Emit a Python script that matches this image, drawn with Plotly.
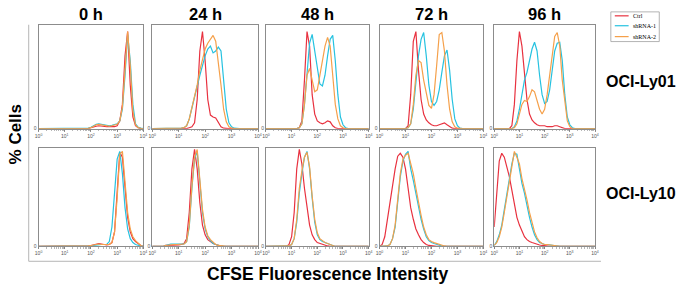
import plotly.graph_objects as go

# ---------------- data ----------------
# CFSE intensity grid expressed in decades (log10 of intensity)
log_decades = [0.0, 0.1, 0.2, 0.3, 0.4, 0.5, 0.6, 0.7, 0.8, 0.9,
               1.0, 1.1, 1.2, 1.3, 1.4, 1.5, 1.6, 1.7, 1.8, 1.9,
               2.0, 2.1, 2.2, 2.3, 2.4, 2.5, 2.6, 2.7, 2.8, 2.9,
               3.0, 3.1, 3.2, 3.3, 3.4, 3.5, 3.6, 3.7, 3.8, 3.9,
               4.0]

time_points = ["0 h", "24 h", "48 h", "72 h", "96 h"]
cell_lines = ["OCI-Ly01", "OCI-Ly10"]
series_names = ["Ctrl", "shRNA-1", "shRNA-2"]
tick_labels = ["10<sup>0</sup>", "10<sup>1</sup>", "10<sup>2</sup>", "10<sup>3</sup>", "10<sup>4</sup>"]
tick_intensities = [1, 10, 100, 1000, 10000]

# OCI-Ly01 (% of max cells)
ly01_0h_ctrl = [0, 0, 0, 0, 0, 0, 0, 0, 0, 0,
                0, 0, 0, 0, 0, 0, 0, 0, 0, 0,
                1, 2, 2.5, 3, 2.5, 2, 2, 2, 2, 2,
                3, 8, 25, 75, 100, 45, 12, 3, 1, 0,
                0]
ly01_0h_sh1 = [0, 0, 0, 0, 0, 0, 0, 0, 0, 0,
               0, 0, 0, 0, 0, 0, 0, 0, 0, 0.5,
               1.5, 3, 4.5, 5, 4.5, 3.5, 3, 3, 3.5, 4,
               5, 8, 20, 55, 97, 70, 25, 5, 1.5, 0.5,
               0]
ly01_0h_sh2 = [0, 0, 0, 0, 0, 0, 0, 0, 0, 0,
               0, 0, 0, 0, 0, 0, 0, 0, 0, 0.3,
               1, 2.5, 4, 4.5, 4, 3, 2.5, 2.5, 3, 3.5,
               4.5, 8, 22, 60, 100, 65, 18, 4, 1, 0.3,
               0]
ly01_24h_ctrl = [0, 0, 0, 0, 0, 0, 0, 0, 0, 0,
                 0, 0, 0, 0, 1, 2, 6, 30, 80, 100,
                 70, 30, 14, 12, 11, 6, 2, 0.5, 0, 0,
                 0, 0, 0, 0, 0, 0, 0, 0, 0, 0,
                 0]
ly01_24h_sh1 = [0, 0, 0, 0, 0, 0, 0, 0, 0, 0,
                0, 0.5, 1, 3, 10, 22, 32, 45, 55, 65,
                75, 82, 85, 78, 80, 84, 80, 50, 20, 6,
                2, 0.5, 0, 0, 0, 0, 0, 0, 0, 0,
                0]
ly01_24h_sh2 = [0, 0, 0, 0, 0, 0, 0, 0, 0, 0,
                0, 0.5, 1, 3, 10, 22, 32, 45, 60, 72,
                82, 88, 92, 96, 90, 70, 45, 20, 7, 2,
                0.5, 0, 0, 0, 0, 0, 0, 0, 0, 0,
                0]
ly01_48h_ctrl = [0, 0, 0, 0, 0, 0, 0, 0, 0, 0,
                 0, 0, 0, 1, 8, 50, 100, 85, 35, 15,
                 8, 6, 5, 6, 8, 7, 3, 1, 0, 0,
                 0, 0, 0, 0, 0, 0, 0, 0, 0, 0,
                 0]
ly01_48h_sh1 = [0, 0, 0, 0, 0, 0, 0, 0, 0, 0,
                0, 0, 0, 1, 5, 25, 60, 88, 97, 80,
                58, 46, 44, 55, 75, 92, 96, 70, 35, 12,
                4, 1, 0, 0, 0, 0, 0, 0, 0, 0,
                0]
ly01_48h_sh2 = [0, 0, 0, 0, 0, 0, 0, 0, 0, 0,
                0, 0, 0, 1, 5, 25, 55, 62, 50, 38,
                40, 55, 70, 85, 94, 85, 55, 25, 10, 3,
                1, 0, 0, 0, 0, 0, 0, 0, 0, 0,
                0]
ly01_72h_ctrl = [0, 0, 0, 0, 0, 0, 0, 0, 0, 0,
                 0, 3, 35, 90, 100, 60, 30, 15, 9, 6,
                 4, 3, 3, 4, 5, 6, 4, 2, 0.5, 0,
                 0, 0, 0, 0, 0, 0, 0, 0, 0, 0,
                 0]
ly01_72h_sh1 = [0, 0, 0, 0, 0, 0, 0, 0, 0, 0,
                0, 1, 5, 20, 50, 75, 92, 99, 75, 45,
                28, 24, 28, 40, 58, 75, 81, 60, 30, 10,
                3, 0.5, 0, 0, 0, 0, 0, 0, 0, 0,
                0]
ly01_72h_sh2 = [0, 0, 0, 0, 0, 0, 0, 0, 0, 0,
                0, 1, 5, 25, 55, 70, 68, 50, 35, 24,
                21, 35, 65, 97, 99, 80, 45, 20, 7, 2,
                0.5, 0, 0, 0, 0, 0, 0, 0, 0, 0,
                0]
ly01_96h_ctrl = [0, 0, 0, 0, 0, 0, 0, 3, 25, 70,
                 100, 85, 55, 30, 15, 9, 6, 4, 3, 3,
                 3, 2, 2, 2, 3, 3, 2, 1, 0, 0,
                 0, 0, 0, 0, 0, 0, 0, 0, 0, 0,
                 0]
ly01_96h_sh1 = [0, 0, 0, 0, 0, 0, 0, 0, 2, 8,
                20, 35, 50, 58, 70, 82, 89, 80, 55, 35,
                26, 28, 40, 60, 80, 88, 89, 70, 35, 12,
                4, 1, 0, 0, 0, 0, 0, 0, 0, 0,
                0]
ly01_96h_sh2 = [0, 0, 0, 0, 0, 0, 0, 0, 1, 5,
                15, 25, 29, 28, 33, 40, 38, 28, 20, 15,
                20, 35, 55, 80, 95, 99, 85, 50, 30, 8,
                2, 0, 0, 0, 0, 0, 0, 0, 0, 0,
                0]

# OCI-Ly10 (% of max cells)
ly10_0h_ctrl = [0, 0, 0, 0, 0, 0, 0, 0, 0, 0,
                0, 0, 0, 0, 0, 0, 0, 0, 0, 0.5,
                1, 1.5, 2, 3, 2.5, 2, 1.5, 2, 4, 15,
                55, 97, 92, 60, 30, 15, 8, 5, 3, 1,
                0]
ly10_0h_sh1 = [0, 0, 0, 0, 0, 0, 0, 0, 0, 0,
               0, 0, 0, 0, 0, 0, 0, 0, 0, 0,
               0.5, 1, 1.5, 2, 2, 2, 2, 5, 20, 55,
               90, 98, 75, 40, 18, 8, 4, 2, 1, 0.5,
               0]
ly10_0h_sh2 = [0, 0, 0, 0, 0, 0, 0, 0, 0, 0,
               0, 0, 0, 0, 0, 0, 0, 0, 0, 0.5,
               1, 1.5, 2, 2.5, 2, 2, 1.5, 2, 4, 15,
               50, 95, 98, 65, 35, 18, 10, 6, 3, 1,
               0]
ly10_24h_ctrl = [0, 0, 0, 0, 0, 1, 1, 1.5, 1.5, 1.5,
                 1.5, 2, 3, 8, 35, 80, 100, 80, 45, 22,
                 12, 7, 5, 3, 2, 1, 0.5, 0, 0, 0,
                 0, 0, 0, 0, 0, 0, 0, 0, 0, 0,
                 0]
ly10_24h_sh1 = [0, 0, 0, 0, 0, 1, 2, 2.5, 2.5, 2.5,
                2, 2, 2.5, 5, 20, 60, 90, 98, 70, 35,
                18, 10, 6, 3, 2, 1, 0.5, 0, 0, 0,
                0, 0, 0, 0, 0, 0, 0, 0, 0, 0,
                0]
ly10_24h_sh2 = [0, 0, 0, 0, 0, 1, 1.5, 2, 2, 2,
                2, 2, 2.5, 5, 22, 62, 92, 100, 72, 38,
                20, 11, 7, 4, 2, 1, 0.5, 0, 0, 0,
                0, 0, 0, 0, 0, 0, 0, 0, 0, 0,
                0]
ly10_48h_ctrl = [0, 0, 0, 0, 0, 0, 0, 0, 0, 2,
                 10, 35, 80, 100, 85, 60, 38, 22, 12, 7,
                 4, 3, 2, 1, 0.5, 0, 0, 0, 0, 0,
                 0, 0, 0, 0, 0, 0, 0, 0, 0, 0,
                 0]
ly10_48h_sh1 = [0, 0, 0, 0, 0, 0, 0, 0, 0, 0.5,
                2, 8, 25, 55, 75, 92, 98, 80, 50, 25,
                12, 7, 5, 4, 3, 2, 1, 0, 0, 0,
                0, 0, 0, 0, 0, 0, 0, 0, 0, 0,
                0]
ly10_48h_sh2 = [0, 0, 0, 0, 0, 0, 0, 0, 0, 0.5,
                2, 8, 28, 60, 78, 92, 97, 82, 52, 28,
                14, 8, 6, 4, 3, 2, 1, 0, 0, 0,
                0, 0, 0, 0, 0, 0, 0, 0, 0, 0,
                0]
ly10_72h_ctrl = [0, 2, 10, 28, 45, 62, 80, 93, 96, 92,
                 80, 60, 40, 28, 18, 12, 7, 4, 2, 1,
                 0.5, 0, 0, 0, 0, 0, 0, 0, 0, 0,
                 0, 0, 0, 0, 0, 0, 0, 0, 0, 0,
                 0]
ly10_72h_sh1 = [0, 0, 0, 0.5, 2, 8, 20, 45, 72, 88,
                95, 98, 80, 68, 55, 40, 28, 18, 10, 6,
                4, 3, 2, 1, 0.5, 0, 0, 0, 0, 0,
                0, 0, 0, 0, 0, 0, 0, 0, 0, 0,
                0]
ly10_72h_sh2 = [0, 0, 0, 0.5, 2, 8, 22, 48, 75, 90,
                94, 96, 85, 75, 60, 45, 32, 20, 12, 7,
                5, 4, 3, 2, 1, 0.5, 0, 0, 0, 0,
                0, 0, 0, 0, 0, 0, 0, 0, 0, 0,
                0]
ly10_96h_ctrl = [20, 55, 88, 96, 92, 82, 72, 58, 42, 30,
                 22, 15, 10, 7, 5, 4, 3, 2, 1.5, 1,
                 0.5, 0, 0, 0, 0, 0, 0, 0, 0, 0,
                 0, 0, 0, 0, 0, 0, 0, 0, 0, 0,
                 0]
ly10_96h_sh1 = [1, 5, 12, 22, 38, 55, 70, 85, 96, 95,
                80, 65, 55, 42, 30, 20, 12, 7, 4, 3,
                2, 2, 1.5, 1, 0.5, 0, 0, 0, 0, 0,
                0, 0, 0, 0, 0, 0, 0, 0, 0, 0,
                0]
ly10_96h_sh2 = [1, 4, 10, 20, 35, 52, 68, 85, 98, 92,
                85, 70, 60, 48, 35, 24, 15, 9, 5, 3,
                2, 2, 1.5, 1, 0.5, 0, 0, 0, 0, 0,
                0, 0, 0, 0, 0, 0, 0, 0, 0, 0,
                0]

panels = [
    [(ly01_0h_ctrl, ly01_0h_sh1, ly01_0h_sh2),
     (ly01_24h_ctrl, ly01_24h_sh1, ly01_24h_sh2),
     (ly01_48h_ctrl, ly01_48h_sh1, ly01_48h_sh2),
     (ly01_72h_ctrl, ly01_72h_sh1, ly01_72h_sh2),
     (ly01_96h_ctrl, ly01_96h_sh1, ly01_96h_sh2)],
    [(ly10_0h_ctrl, ly10_0h_sh1, ly10_0h_sh2),
     (ly10_24h_ctrl, ly10_24h_sh1, ly10_24h_sh2),
     (ly10_48h_ctrl, ly10_48h_sh1, ly10_48h_sh2),
     (ly10_72h_ctrl, ly10_72h_sh1, ly10_72h_sh2),
     (ly10_96h_ctrl, ly10_96h_sh1, ly10_96h_sh2)],
]

# ---------------- styling / layout ----------------
W, H = 686, 292
colors = ["#e8313f", "#26c2e0", "#f5a04a"]
frame_color = "#8c8c8c"
panel_x = [(35, 141), (150, 257), (265, 369), (380, 485), (496, 598)]
panel_y = [(25, 130), (150, 249)]
y_max = [107, 101]

intensity = [10 ** d for d in log_decades]

fig = go.Figure()
layout = dict(
    width=W, height=H,
    margin=dict(l=0, r=0, t=0, b=0),
    paper_bgcolor="white", plot_bgcolor="white",
    font=dict(family="Liberation Sans, Arial, sans-serif", color="black"),
    showlegend=False,
)

n = 0
for r in range(2):
    for c in range(5):
        n += 1
        xa = "x" if n == 1 else f"x{n}"
        ya = "y" if n == 1 else f"y{n}"
        for s in range(3):
            fig.add_trace(go.Scatter(
                x=intensity, y=panels[r][c][s], mode="lines",
                line=dict(color=colors[s], width=1.2),
                name=series_names[s], legendgroup=series_names[s],
                xaxis=xa, yaxis=ya, hoverinfo="skip",
            ))
        x0, x1 = panel_x[c]
        yt, yb = panel_y[r]
        layout["xaxis" if n == 1 else f"xaxis{n}"] = dict(
            domain=[x0 / W, x1 / W], anchor=ya, type="log", range=[0, 4],
            showline=True, mirror=True, linecolor=frame_color, linewidth=1,
            showgrid=False, zeroline=False,
            tickvals=tick_intensities, ticktext=tick_labels,
            tickfont=dict(size=5, color="#555"),
            ticks="outside", ticklen=2, tickcolor="#777", tickwidth=0.8,
            minor=dict(dtick="D1", ticks="outside", ticklen=1.5,
                       tickcolor="#888", tickwidth=0.6),
        )
        layout["yaxis" if n == 1 else f"yaxis{n}"] = dict(
            domain=[1 - yb / H, 1 - yt / H], anchor=xa, range=[0, y_max[r]],
            showline=True, mirror=True, linecolor=frame_color, linewidth=1,
            showgrid=False, zeroline=False,
            tickvals=[0], ticktext=["0"], ticks="",
            tickfont=dict(size=5, color="#555"),
        )

annotations = []
for c, t in enumerate(time_points):
    x0, x1 = panel_x[c]
    annotations.append(dict(
        text=f"<b>{t}</b>", x=(x0 + x1) / 2 / W, y=1 - 14 / H,
        xref="paper", yref="paper", showarrow=False,
        font=dict(size=16.5), xanchor="center", yanchor="middle"))
for r, name in enumerate(cell_lines):
    annotations.append(dict(
        text=f"<b>{name}</b>", x=607 / W, y=1 - [82, 196][r] / H,
        xref="paper", yref="paper", showarrow=False,
        font=dict(size=16), xanchor="left", yanchor="middle"))
annotations.append(dict(
    text="<b>% Cells</b>", x=12 / W, y=1 - 136 / H, textangle=-90,
    xref="paper", yref="paper", showarrow=False,
    font=dict(size=17), xanchor="center", yanchor="middle"))
annotations.append(dict(
    text="<b>CFSE Fluorescence Intensity</b>", x=327 / W, y=1 - 277 / H,
    xref="paper", yref="paper", showarrow=False,
    font=dict(size=17.5), xanchor="center", yanchor="middle"))

# legend (box, line samples, labels)
legend_rows = [16, 26, 37]
shapes = [
    dict(type="line", xref="paper", yref="paper",
         x0=25 / W, x1=25 / W, y0=1 - 25 / H, y1=1 - 264 / H,
         line=dict(color="#b5b5b5", width=1)),
    dict(type="line", xref="paper", yref="paper",
         x0=25 / W, x1=604 / W, y0=1 - 264 / H, y1=1 - 264 / H,
         line=dict(color="#b5b5b5", width=1)),
    dict(type="rect", xref="paper", yref="paper",
         x0=614 / W, x1=663 / W, y0=1 - 42 / H, y1=1 - 12 / H,
         line=dict(color="#a0a0a0", width=0.8), fillcolor="white"),
]
for s, yy in enumerate(legend_rows):
    shapes.append(dict(type="line", xref="paper", yref="paper",
                       x0=618 / W, x1=632 / W, y0=1 - yy / H, y1=1 - yy / H,
                       line=dict(color=colors[s], width=1.2)))
    annotations.append(dict(
        text=series_names[s], x=634 / W, y=1 - yy / H,
        xref="paper", yref="paper", showarrow=False,
        font=dict(family="Liberation Serif, Times New Roman, serif", size=6),
        xanchor="left", yanchor="middle"))
layout["annotations"] = annotations
layout["shapes"] = shapes

fig.update_layout(**layout)
fig.write_html("out.html",
               config={"displayModeBar": False, "staticPlot": True},
               post_script="document.body.style.margin='0px';"
                           "document.documentElement.style.overflow='hidden';")
